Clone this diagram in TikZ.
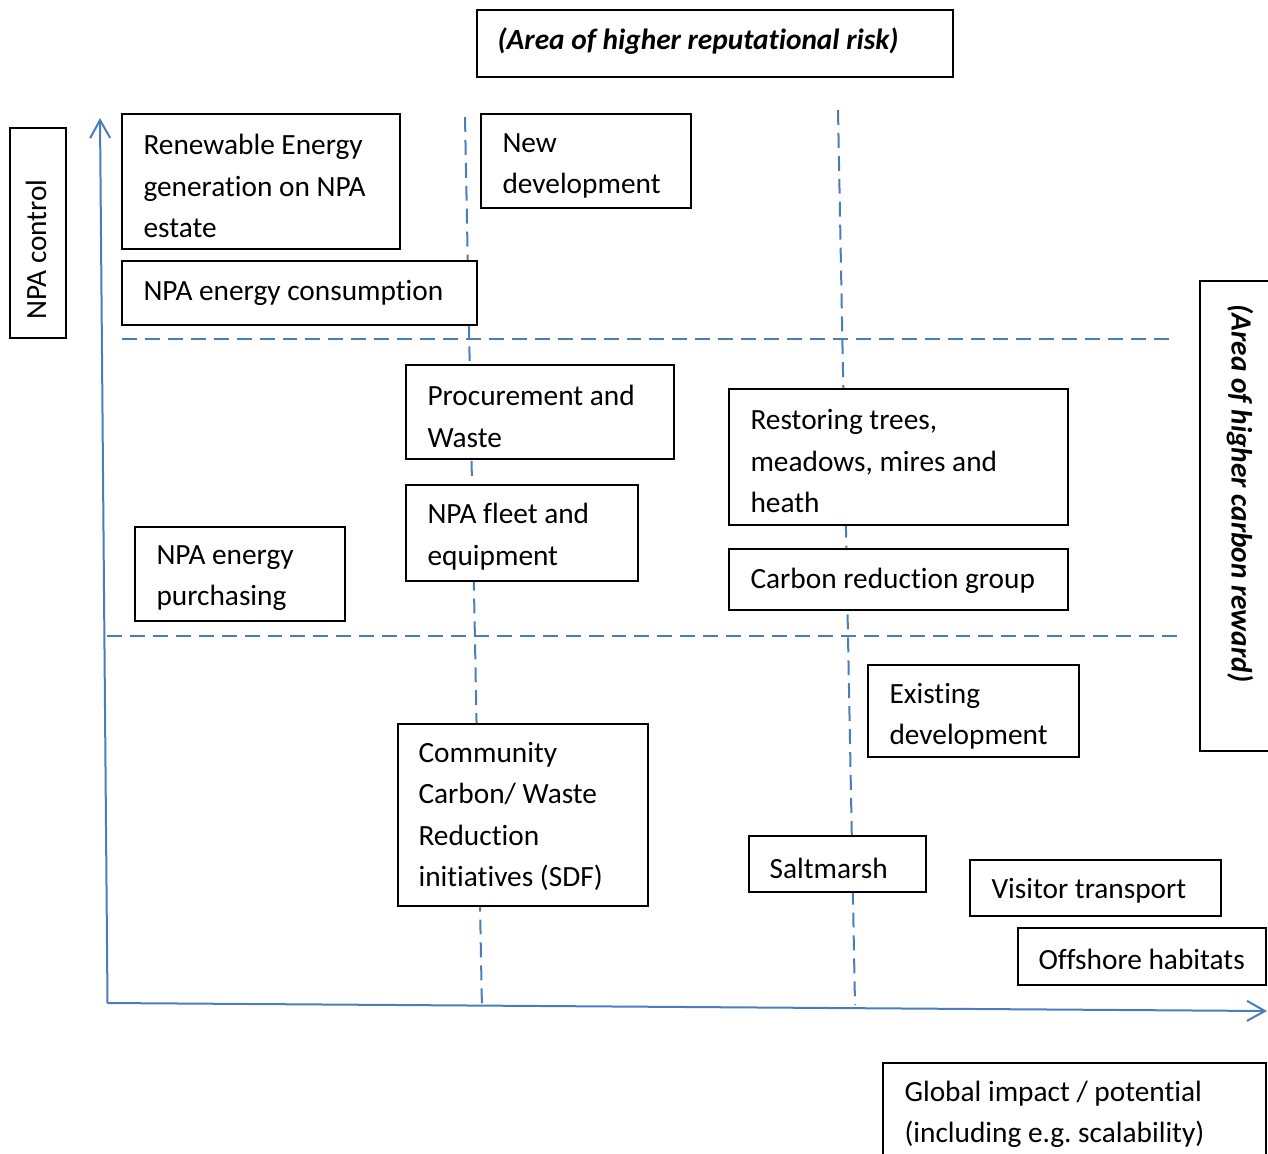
\documentclass[tikz,border=0pt]{standalone}
\usepackage{fontspec}
\setmainfont{Carlito}[Ligatures={NoCommon}]
\usetikzlibrary{arrows.meta}
\definecolor{axisblue}{RGB}{74,126,187}
\frenchspacing
\newcommand\drawbox[5]{\node[boxst, minimum width={(#4-#2)*0.375pt}, minimum height={(#5-#3)*0.375pt}] (#1) at (#2,#3) {};}
\begin{document}
\begin{tikzpicture}[x=0.375pt, y=-0.375pt,
  boxst/.style={draw=black, line width=0.75pt, fill=white, inner sep=0pt, outer sep=0pt, anchor=north west},
  txt/.style={anchor=west, align=left, inner sep=0pt, yshift=-0.75pt, font=\fontsize{11pt}{15.56pt}\selectfont},
  btxt/.style={txt, font=\fontsize{11pt}{15.56pt}\selectfont\bfseries\itshape},
  dashline/.style={draw=axisblue, line width=0.75pt, dash pattern=on 5.6pt off 3pt},
  axisline/.style={draw=axisblue, line width=0.75pt, -{Straight Barb[length=6.75pt, width=7.5pt, line width=0.75pt]}}]
\useasboundingbox (0,0) rectangle (1268,1153);
\clip (0,0) rectangle (1268,1153);
% axes
\coordinate (origin) at (107.5,1003);
\coordinate (ytop) at (100,118);
\coordinate (xend) at (1267,1011);
\draw[axisline] (origin) -- (ytop);
\draw[axisline] (origin) -- (xend);
% dashed grid
\coordinate (v1a) at (465,117); \coordinate (v1b) at (482,1010);
\coordinate (v2a) at (838,110); \coordinate (v2b) at (855,1005);
\coordinate (h1a) at (122,339); \coordinate (h1b) at (1173,339);
\coordinate (h2a) at (107,636); \coordinate (h2b) at (1180,636);
\draw[dashline] (v1a) -- (v1b);
\draw[dashline] (v2a) -- (v2b);
\draw[dashline] (h1a) -- (h1b);
\draw[dashline] (h2a) -- (h2b);
% header boxes
\drawbox{top}{477}{10}{953}{77}
\node[btxt] (toptxt) at (497,39) {(Area of higher reputational risk)};
\drawbox{ctrl}{10}{128}{66}{338}
\node[txt, rotate=90, yshift=0.75pt] (ctrltxt) at (38,318) {NPA control};
\drawbox{right}{1200}{281}{1300}{751}
\node[btxt, rotate=-90, yshift=0.75pt] (righttxt) at (1238,302) {(Area of higher carbon reward)};
% content boxes
\drawbox{re}{122}{114}{400}{249}
\node[txt] (retxt) at (143,184.3) {Renewable Energy\\generation on NPA\\estate};
\drawbox{cons}{122}{261}{477}{325}
\node[txt] (constxt) at (143,291) {NPA energy consumption};
\drawbox{newdev}{481}{114}{691}{208}
\node[txt] (newdevtxt) at (502,164) {New\\development};
\drawbox{proc}{406}{365}{674}{459}
\node[txt] (proctxt) at (427,414.5) {Procurement and\\Waste};
\drawbox{fleet}{406}{485}{638}{581}
\node[txt] (fleettxt) at (427,534.5) {NPA fleet and\\equipment};
\drawbox{purch}{135}{527}{345}{621}
\node[txt] (purchtxt) at (156,576) {NPA energy\\purchasing};
\drawbox{rest}{729}{389}{1068}{525}
\node[txt] (resttxt) at (750,459.3) {Restoring trees,\\meadows, mires and\\heath};
\drawbox{crg}{729}{549}{1068}{610}
\node[txt] (crgtxt) at (750,579) {Carbon reduction group};
\drawbox{exist}{868}{665}{1079}{757}
\node[txt] (existtxt) at (889,714.5) {Existing\\development};
\drawbox{comm}{398}{724}{648}{906}
\node[txt] (commtxt) at (418,814.3) {Community\\Carbon/ Waste\\Reduction\\initiatives (SDF)};
\drawbox{salt}{749}{836}{926}{892}
\node[txt] (salttxt) at (769,866) {Saltmarsh};
\drawbox{visit}{970}{860}{1221}{916}
\node[txt] (visittxt) at (991,889) {Visitor transport};
\drawbox{off}{1018}{928}{1266}{985}
\node[txt] (offtxt) at (1038,957) {Offshore habitats};
\drawbox{glob}{883}{1063}{1266}{1170}
\node[txt] (globtxt) at (904,1112.5) {Global impact / potential\\(including e.g. scalability)};
\end{tikzpicture}
\end{document}
